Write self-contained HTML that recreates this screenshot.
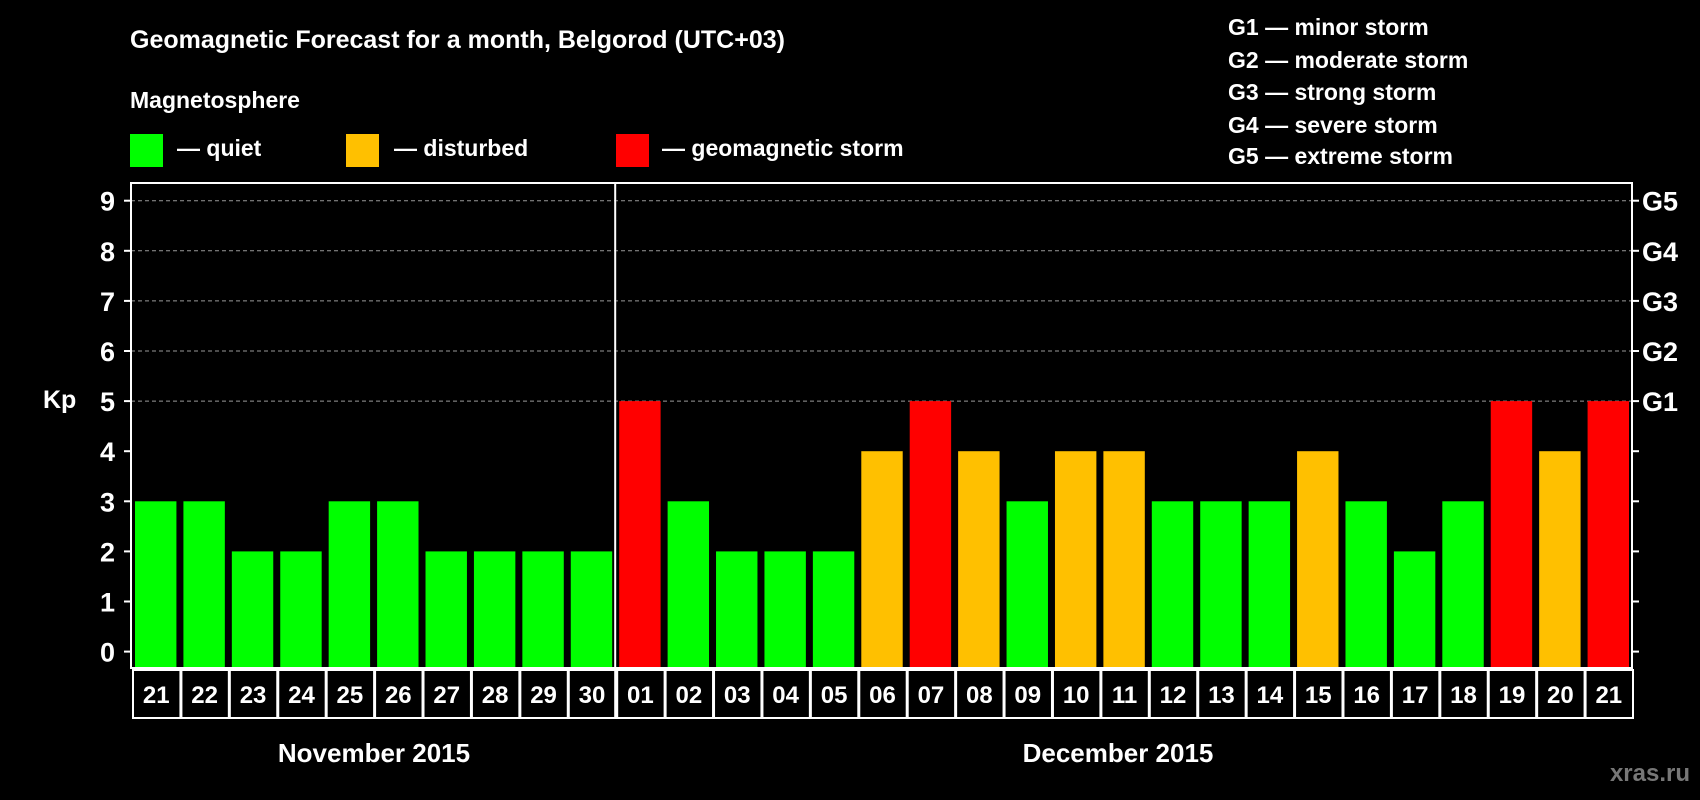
<!DOCTYPE html>
<html><head><meta charset="utf-8"><style>
html,body{margin:0;padding:0;background:#000;width:1700px;height:800px;overflow:hidden}
svg text{font-family:"Liberation Sans",Arial,sans-serif;font-weight:bold;fill:#fff}
</style></head><body>
<svg id="chart" width="1700" height="800" viewBox="0 0 1700 800" xmlns="http://www.w3.org/2000/svg">
<rect width="1700" height="800" fill="#000"/>
<text x="130" y="48" font-size="25">Geomagnetic Forecast for a month, Belgorod (UTC+03)</text>
<text x="130" y="108" font-size="23">Magnetosphere</text>
<g><rect x="130" y="134" width="33" height="33" fill="#00ff00"/><text x="177" y="156" font-size="23">— quiet</text></g>
<g><rect x="346" y="134" width="33" height="33" fill="#ffc000"/><text x="394" y="156" font-size="23">— disturbed</text></g>
<g><rect x="616" y="134" width="33" height="33" fill="#ff0000"/><text x="662" y="156" font-size="23">— geomagnetic storm</text></g>
<g font-size="23">
<text x="1228" y="35">G1 — minor storm</text>
<text x="1228" y="68">G2 — moderate storm</text>
<text x="1228" y="100">G3 — strong storm</text>
<text x="1228" y="133">G4 — severe storm</text>
<text x="1228" y="164">G5 — extreme storm</text>
</g>
<text x="43" y="408" font-size="25">Kp</text>
<g id="grid"></g><g id="bars"></g><g id="axes"></g>
<text x="374" y="762" font-size="26" text-anchor="middle">November 2015</text>
<text x="1118" y="762" font-size="26" text-anchor="middle">December 2015</text>
<text x="1690" y="781" font-size="24" text-anchor="end" style="fill:#777">xras.ru</text>
</svg>
<script>
const days=["21","22","23","24","25","26","27","28","29","30","01","02","03","04","05","06","07","08","09","10","11","12","13","14","15","16","17","18","19","20","21"];
const kpValues=[3,3,2,2,3,3,2,2,2,2,5,3,2,2,2,4,5,4,3,4,4,3,3,3,4,3,2,3,5,4,5];
const yTicks=[0,1,2,3,4,5,6,7,8,9];
const gLabels=["G1","G2","G3","G4","G5"];
const NS="http://www.w3.org/2000/svg";
const L=131,R=1632,T=183,B=668,Y0=651.6,UNIT=50.1;
const step=(R-L)/days.length;
function y(v){return Y0-v*UNIT;}
function x(i){return L+i*step;}
function mk(tag,attrs,parent){const e=document.createElementNS(NS,tag);for(const k in attrs)e.setAttribute(k,attrs[k]);parent.appendChild(e);return e;}
const grid=document.getElementById('grid'),bars=document.getElementById('bars'),axes=document.getElementById('axes');
yTicks.forEach(v=>{
  if(v>=5){const g=mk('line',{x1:L,x2:R,y1:y(v),y2:y(v),stroke:'#999','stroke-dasharray':'4,3','stroke-width':1},grid);
  
  }
  const t=mk('line',{x1:L-7,x2:L,y1:y(v),y2:y(v),stroke:'#fff','stroke-width':2},axes);
  
  
  const t2=mk('line',{x1:R,x2:R+7,y1:y(v),y2:y(v),stroke:'#fff','stroke-width':2},axes);
  
  
  const lb=mk('text',{x:115,y:y(v)+10,'font-size':27,'text-anchor':'end'},axes);lb.textContent=v;
  
  
  if(v>=5){const gl=mk('text',{x:1642,y:y(v)+10,'font-size':27},axes);gl.textContent=gLabels[v-5];
  
  }
});
kpValues.forEach((v,i)=>{
  const c=v>=5?'#ff0000':(v>=4?'#ffc000':'#00ff00');
  const b=mk('rect',{x:x(i)+4,y:y(v),width:step-7,height:B-y(v)-1,fill:c},bars);
  
  
  const bx=mk('rect',{x:x(i)+2,y:B+2,width:step-1,height:48,fill:'none',stroke:'#fff','stroke-width':2},axes);
  
  
  const tl=mk('text',{x:x(i)+step/2+1,y:B+35,'font-size':24,'text-anchor':'middle'},axes);tl.textContent=days[i];
  
  
});
const fr=mk('rect',{x:L,y:T,width:R-L,height:B-T,fill:'none',stroke:'#fff','stroke-width':2},axes);


const dv=mk('line',{x1:x(10),x2:x(10),y1:T,y2:B+50,stroke:'#fff','stroke-width':2},axes);


</script>
</body></html>
